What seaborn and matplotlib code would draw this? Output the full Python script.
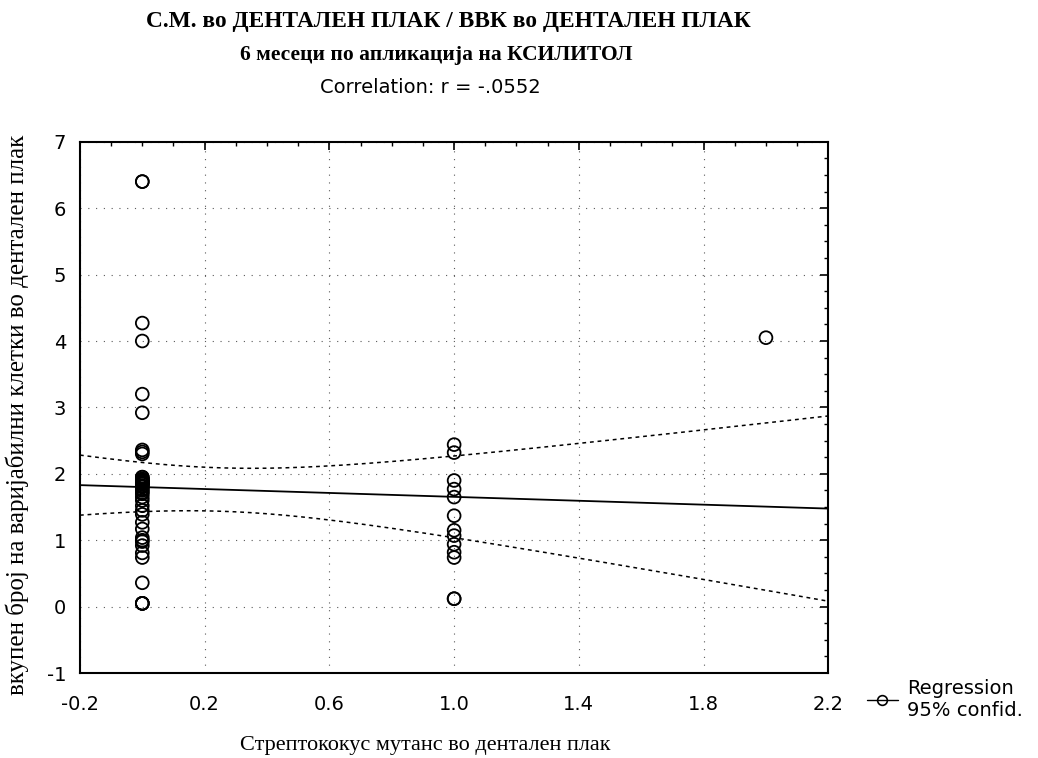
import numpy as np
import pandas as pd
import matplotlib
matplotlib.use("Agg")
import matplotlib.pyplot as plt
import seaborn as sns
from matplotlib.lines import Line2D
from matplotlib.ticker import MultipleLocator

# ---------------- text ----------------
title1 = "С.М. во ДЕНТАЛЕН ПЛАК / ВВК во ДЕНТАЛЕН ПЛАК"
title2 = "6 месеци по апликација на КСИЛИТОЛ"
title3 = "Correlation: r = -.0552"
x_label = "Стрептококус мутанс во дентален плак"
y_label = "вкупен број на варијабилни клетки во дентален плак"
legend_label = "Regression\n95% confid."

# ---------------- data ----------------
# x = С.М. score (0, 1, 2); y = ВВК values
# (overlapping circles in the dense columns are repeated values)
sm_levels = [0, 1, 2]
vvk_sm0 = [6.40, 6.40, 4.27, 4.00, 3.20, 2.92, 2.36, 2.33, 2.30,
           1.95, 1.95, 1.92, 1.92, 1.90, 1.90, 1.88, 1.88, 1.86, 1.86,
           1.85, 1.85, 1.82, 1.82, 1.80, 1.77, 1.75, 1.72, 1.70, 1.65,
           1.60, 1.52, 1.45, 1.39, 1.27, 1.17, 1.04, 1.00, 0.98, 0.92,
           0.81, 0.74, 0.36, 0.05, 0.05, 0.05, 0.05]
vvk_sm1 = [2.44, 2.32, 1.90, 1.77, 1.65, 1.37, 1.15, 1.07, 0.94,
           0.82, 0.74, 0.12, 0.12]
vvk_sm2 = [4.05]

x_ticks = [-0.2, 0.2, 0.6, 1.0, 1.4, 1.8, 2.2]
x_tick_labels = ["-0.2", "0.2", "0.6", "1.0", "1.4", "1.8", "2.2"]
y_ticks = [-1, 0, 1, 2, 3, 4, 5, 6, 7]
y_tick_labels = ["-1", "0", "1", "2", "3", "4", "5", "6", "7"]
T_CRIT = 2.002  # two-sided 95% t critical value, df = n - 2 = 58

groups = [vvk_sm0, vvk_sm1, vvk_sm2]
df = pd.DataFrame({
    "sm": np.concatenate([[lvl] * len(g) for lvl, g in zip(sm_levels, groups)]).astype(float),
    "vvk": np.concatenate(groups),
})

# ---------------- style ----------------
sns.set_style("white")
plt.rcParams["font.family"] = ["DejaVu Sans"]
plt.rcParams["axes.unicode_minus"] = False
plt.rcParams["text.color"] = "black"

fig = plt.figure(figsize=(10.38, 7.58), dpi=100)
ax = fig.add_axes([0.077, 0.112, 0.721, 0.701])

ax.set_xlim(-0.2, 2.2)
ax.set_ylim(-1, 7)

sns.regplot(data=df, x="sm", y="vvk", ax=ax, ci=None, truncate=False,
            color="black",
            scatter_kws=dict(s=85, facecolors="none", edgecolors="black",
                             linewidths=1.3, alpha=1, zorder=3),
            line_kws=dict(color="black", lw=1.3, zorder=2))

# analytic 95% confidence band of the regression line
x = df["sm"].to_numpy()
y = df["vvk"].to_numpy()
n = len(x)
b, a = np.polyfit(x, y, 1)
resid = y - (a + b * x)
s = np.sqrt(np.sum(resid ** 2) / (n - 2))
xg = np.linspace(-0.2, 2.2, 200)
sxx = np.sum((x - x.mean()) ** 2)
hw = T_CRIT * s * np.sqrt(1.0 / n + (xg - x.mean()) ** 2 / sxx)
fit = a + b * xg
ax.plot(xg, fit + hw, color="black", lw=1.1, ls=(0, (2.5, 2.5)), zorder=2)
ax.plot(xg, fit - hw, color="black", lw=1.1, ls=(0, (2.5, 2.5)), zorder=2)

ax.set_xlim(-0.2, 2.2)
ax.set_ylim(-1, 7)
ax.set_xticks(x_ticks)
ax.set_xticklabels(x_tick_labels)
ax.set_yticks(y_ticks)
ax.set_yticklabels(y_tick_labels)
ax.xaxis.set_minor_locator(MultipleLocator(0.1))
ax.yaxis.set_minor_locator(MultipleLocator(0.25))
ax.tick_params(axis="both", which="both", direction="in", top=True, right=True,
               colors="black", labelcolor="black", labelsize=14)
ax.tick_params(axis="both", which="major", length=6, width=1.2)
ax.tick_params(axis="both", which="minor", length=3, width=1.0)
ax.tick_params(axis="x", which="major", pad=16)
ax.tick_params(axis="y", which="major", pad=10)

ax.grid(True, which="major", color="0.35", lw=0.8, ls=(0, (1, 6)))
for sp in ax.spines.values():
    sp.set_visible(True)
    sp.set_color("black")
    sp.set_linewidth(1.5)
ax.set_xlabel("")
ax.set_ylabel("")

# titles and axis labels
fig.text(0.432, 0.971, title1, ha="center", va="center", color="black",
         family="Liberation Serif", weight="bold", fontsize=16.8)
fig.text(0.42, 0.927, title2, ha="center", va="center", color="black",
         family="Liberation Serif", weight="bold", fontsize=15.5)
fig.text(0.415, 0.884, title3, ha="center", va="center", color="black", fontsize=14)
fig.text(0.41, 0.017, x_label, ha="center", va="center", color="black",
         family="Liberation Serif", fontsize=16)
fig.text(0.017, 0.4525, y_label, ha="center", va="center", rotation=90, color="black",
         family="Liberation Serif", fontsize=18)

handle = Line2D([0], [0], color="black", lw=1, marker="o", mfc="none",
                mec="black", ms=7, mew=1.2)
fig.legend([handle], [legend_label], loc="center left",
           bbox_to_anchor=(0.818, 0.077), frameon=False, fontsize=14,
           handlelength=1.6, handletextpad=0.5, labelspacing=0.2,
           labelcolor="black")

fig.savefig("out.png", dpi=100)
